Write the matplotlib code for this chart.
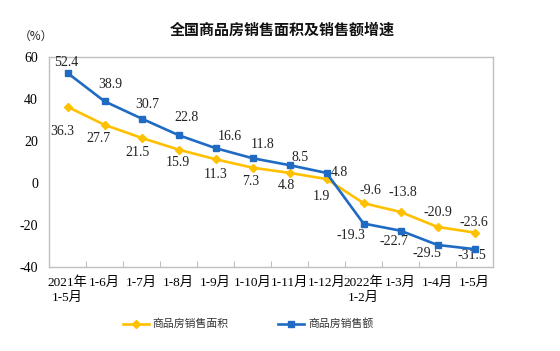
import matplotlib
matplotlib.use("Agg")
import matplotlib.pyplot as plt
from matplotlib.ticker import FixedLocator

plt.rcParams['font.family'] = ['Liberation Serif', 'Noto Sans CJK SC', 'DejaVu Sans']

categories = ["2021年\n1-5月", "1-6月", "1-7月", "1-8月", "1-9月", "1-10月", "1-11月",
              "1-12月", "2022年\n1-2月", "1-3月", "1-4月", "1-5月"]
area = [36.3, 27.7, 21.5, 15.9, 11.3, 7.3, 4.8, 1.9, -9.6, -13.8, -20.9, -23.6]
sales = [52.4, 38.9, 30.7, 22.8, 16.6, 11.8, 8.5, 4.8, -19.3, -22.7, -29.5, -31.5]
yticks = [-40, -20, 0, 20, 40, 60]

# label offsets in pixels (dx, dy)
off_sales = [(-1, 10), (6, 17), (6, 14), (8, 18), (14, 12), (10, 14), (11, 8), (13, 0),
             (-13, -12), (-7, -11), (-11, -9), (-3, -6)]
off_area = [(-5, -25), (-6, -14), (-4, -15), (-1, -13), (0, -15), (-2, -14), (-3, -13), (-5, -17),
            (7, 13), (2, 19), (0, 14), (-1, 10)]

yellow = '#FFC000'
blue = '#1F6BC4'

fig = plt.figure(figsize=(5.6, 3.51), dpi=100)
ax = fig.add_axes([49/560, 1-267/351, 444/560, 210/351])
x = list(range(len(categories)))
l1, = ax.plot(x, area, color=yellow, lw=1.9, marker='D', ms=4.5, label='商品房销售面积', zorder=3)
l2, = ax.plot(x, sales, color=blue, lw=1.9, marker='s', ms=4, label='商品房销售额', zorder=4)

numfont = dict(family=['Liberation Serif'], fontsize=10, color='#222222')
for i, v in enumerate(sales):
    ax.annotate(f"{v}", (i, v), xytext=off_sales[i], textcoords='offset pixels',
                ha='center', va='center', **numfont)
for i, v in enumerate(area):
    ax.annotate(f"{v}", (i, v), xytext=off_area[i], textcoords='offset pixels',
                ha='center', va='center', **numfont)

ax.set_xlim(-0.5, len(categories) - 0.5)
ax.set_ylim(-40, 60)
ax.set_yticks(yticks)
ax.set_yticklabels([str(t) for t in yticks], family=['Liberation Serif'], fontsize=10)
ax.tick_params(axis='y', length=0, pad=8)
ax.set_xticks(x)
ax.set_xticklabels(categories, fontsize=9.5, linespacing=1.3)
ax.tick_params(axis='x', length=0, pad=7)
ax.xaxis.set_minor_locator(FixedLocator([i + 0.5 for i in range(len(categories) - 1)]))
ax.tick_params(axis='x', which='minor', direction='in', length=4, color='#BFBFBF', width=0.8)
for s in ax.spines.values():
    s.set_color('#BFBFBF')
    s.set_linewidth(1.0)

fig.text(282/560, 1-30/351, '全国商品房销售面积及销售额增速', ha='center', va='center',
         family=['Noto Sans CJK SC'], fontsize=10.8, fontweight='bold', color='#111111')
fig.text(36/560, 1-36/351, '（%）', ha='center', va='center', fontsize=8.5,
         family=['Noto Sans CJK SC'], color='#222222')

leg = fig.legend(handles=[l1, l2], loc='center', bbox_to_anchor=(248/560, 1-324/351), ncol=2,
                 frameon=False, handlelength=2.4, columnspacing=4.6,
                 handletextpad=0.35, prop={'family': ['Noto Sans CJK SC'], 'size': 7.8})
for t in leg.get_texts():
    t.set_color('#333333')

fig.savefig('out.png', dpi=100)
